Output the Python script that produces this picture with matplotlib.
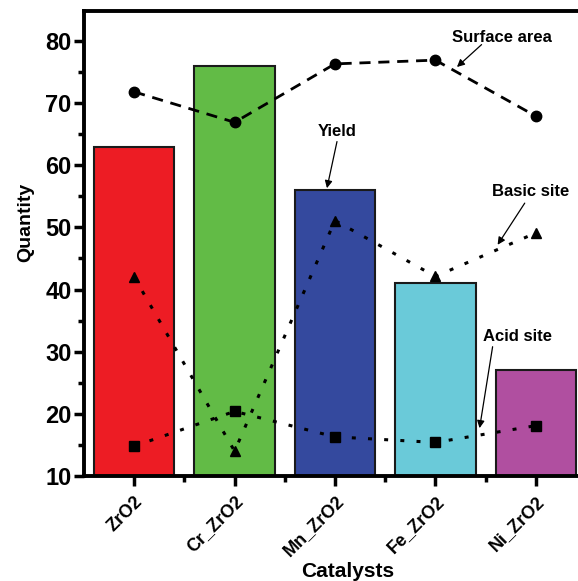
import numpy as np
import matplotlib
matplotlib.use("Agg")
import matplotlib.pyplot as plt
from matplotlib.ticker import MultipleLocator, FixedLocator

plt.rcParams['font.family'] = ['Liberation Sans', 'DejaVu Sans']
plt.rcParams['font.weight'] = 'bold'

catalysts = ["ZrO2", "Cr_ZrO2", "Mn_ZrO2", "Fe_ZrO2", "Ni_ZrO2"]
yield_vals = [63, 76, 56, 41, 27]
surface_area = [71.8, 66.9, 76.3, 76.9, 67.9]
basic_site = [42.0, 14.0, 51.1, 42.1, 49.1]
acid_site = [14.8, 20.4, 16.3, 15.4, 18.1]
bar_colors = ["#ED1C24", "#62BB46", "#34499E", "#6ACAD9", "#B04FA0"]

fig = plt.figure(figsize=(5.78, 5.81), dpi=100)
ax = fig.add_axes([0.1453, 0.1807, 0.8685, 0.8003])

x = np.arange(len(catalysts))
ax.bar(x, yield_vals, width=0.8, color=bar_colors, edgecolor="#1a1a1a",
       linewidth=1.5, zorder=1)

# property series drawn as dashed / dotted lines with markers
ax.plot(x, surface_area, color="black", lw=2, dashes=(4, 2.8), zorder=3)
ax.plot(x, surface_area, "o", color="black", ms=7.5, zorder=4)

ax.plot(x, basic_site, color="black", lw=2.2, dashes=(1.3, 4), zorder=3)
ax.plot(x, basic_site, "^", color="black", ms=7.5, zorder=4)

ax.plot(x, acid_site, color="black", lw=2.2, dashes=(1.3, 4), zorder=3)
ax.plot(x, acid_site, "s", color="black", ms=7, zorder=4)

ax.set_xlim(-0.5, 4.5)
ax.set_ylim(10, 84.8)

ax.yaxis.set_major_locator(MultipleLocator(10))
ax.yaxis.set_minor_locator(MultipleLocator(5))
ax.xaxis.set_major_locator(FixedLocator(x))
ax.xaxis.set_minor_locator(FixedLocator(x[:-1] + 0.5))
ax.set_xticklabels(catalysts, rotation=45, ha="right", rotation_mode="anchor",
                   fontsize=13, fontweight="bold")
for lab in ax.get_yticklabels():
    lab.set_fontsize(17)
    lab.set_fontweight("bold")

ax.tick_params(axis="both", which="major", direction="out", length=7, width=2.5)
ax.tick_params(axis="both", which="minor", direction="out", length=4, width=2.5)
ax.tick_params(axis="y", pad=2)
ax.tick_params(axis="x", pad=5)

for side in ["left", "bottom", "top"]:
    ax.spines[side].set_linewidth(2.8)
ax.spines["right"].set_visible(False)

ax.set_ylabel("Quantity", fontsize=14, fontweight="bold")
ax.yaxis.set_label_coords(-0.1, 0.545)
ax.set_xlabel("Catalysts", fontsize=15, fontweight="bold")
ax.xaxis.set_label_coords(0.526, -0.185)

# callout labels with arrows
labels = [
    ("Surface area", (3.165, 80.6), (3.46, 79.4), (3.215, 75.8)),
    ("Yield", (1.83, 65.4), (2.02, 63.8), (1.92, 56.3)),
    ("Basic site", (3.56, 55.7), (3.89, 53.9), (3.62, 47.2)),
    ("Acid site", (3.47, 32.4), (3.57, 30.8), (3.44, 17.7)),
]
for text, pos, tail, head in labels:
    ax.text(pos[0], pos[1], text, fontsize=12, fontweight="bold",
            ha="left", va="center", zorder=5)
    ax.annotate("", xy=head, xytext=tail,
                arrowprops=dict(arrowstyle="-|>", color="black", lw=0.9,
                                mutation_scale=11, shrinkA=0, shrinkB=0),
                zorder=5)

fig.savefig("out.png", dpi=100)
